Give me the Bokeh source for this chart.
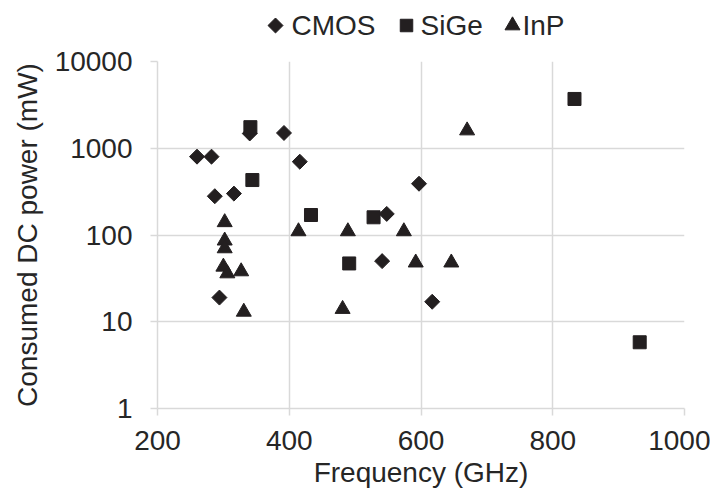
import math
from bokeh.plotting import figure
from bokeh.layouts import column
from bokeh.models import FixedTicker, PrintfTickFormatter
from bokeh.core.properties import value
from bokeh.embed import file_html
from bokeh.resources import INLINE

# ---- data ----
cmos_freq = [260, 282, 287, 316, 340, 392, 416, 294, 541, 548, 597, 617]
cmos_power = [800, 800, 280, 300, 1480, 1500, 700, 19, 50, 175, 390, 17]

sige_freq = [341, 344, 433, 528, 491, 833, 932]
sige_power = [1750, 430, 170, 160, 47, 3700, 5.8]

inp_freq = [302, 302, 302, 300, 306, 327, 331, 414, 481, 489, 574, 592, 646, 670]
inp_power = [140, 86, 70, 43, 36, 38, 13, 110, 14, 110, 110, 48, 48, 1600]

series_names = ["CMOS", "SiGe", "InP"]
x_ticks = [200, 400, 600, 800, 1000]
y_ticks = [1, 10, 100, 1000, 10000]

FONT = "Liberation Sans"
TEXT = "#262626"
MARK = "#231f20"
GRID = "#d9d9d9"
W = 710
LEG_H = 40
FRAME_L, FRAME_R = 157, 684   # page px of the plot frame (column aligns frames)

# ---------------- main chart ----------------
p = figure(width=W, height=497 - LEG_H, output_backend="svg", toolbar_location=None,
           x_range=(200, 1000), y_range=(1, 10000), y_axis_type="log",
           min_border_left=FRAME_L, min_border_right=W - FRAME_R, min_border_top=21,
           min_border_bottom=89)
p.outline_line_color = None

xt = FixedTicker(ticks=x_ticks)
yt = FixedTicker(ticks=y_ticks)
p.xaxis.ticker = xt
p.yaxis.ticker = yt
p.xgrid.ticker = xt
p.ygrid.ticker = yt
p.yaxis.formatter = PrintfTickFormatter(format="%d")

for g in (p.xgrid, p.ygrid):
    g.grid_line_color = GRID
    g.grid_line_width = 1.5

for ax in (p.xaxis, p.yaxis):
    ax.axis_line_color = GRID
    ax.axis_line_width = 1.5
    ax.major_tick_line_color = GRID
    ax.major_tick_line_width = 1.5
    ax.major_tick_in = 0
    ax.major_tick_out = 7
    ax.minor_tick_line_color = None
    ax.major_label_text_font = FONT
    ax.major_label_text_font_size = "28px"
    ax.major_label_text_color = TEXT
    ax.axis_label_text_font = FONT
    ax.axis_label_text_font_size = "28px"
    ax.axis_label_text_font_style = "normal"
    ax.axis_label_text_color = TEXT

p.xaxis.axis_label = "Frequency (GHz)"
p.yaxis.axis_label = "Consumed DC power (mW)"
p.xaxis.major_label_standoff = 15
p.yaxis.major_label_standoff = 18
p.xaxis.axis_label_standoff = 4
p.yaxis.axis_label_standoff = 9

p.scatter(cmos_freq, cmos_power, marker="square", angle=math.pi / 4,
          size=10.6, color=MARK)
p.scatter(sige_freq, sige_power, marker="square", size=13, color=MARK)
p.scatter(inp_freq, inp_power, marker="triangle", size=15, color=MARK)

# ---------------- legend strip (page-pixel coordinates) ----------------
leg = figure(width=W, height=LEG_H, output_backend="svg", toolbar_location=None,
             x_range=(FRAME_L, FRAME_R), y_range=(0, LEG_H),
             min_border_left=FRAME_L, min_border_right=W - FRAME_R,
             min_border_top=0, min_border_bottom=0)
leg.axis.visible = False
leg.grid.visible = False
leg.outline_line_color = None

key_x = [275, 406, 512]          # layout: key symbol centres (page px)
label_x = [291, 420, 522]        # layout: label left edges (page px)
key_y = LEG_H - 25               # layout: legend centre line (px from bottom)

leg.scatter([key_x[0]], [key_y], marker="square", angle=math.pi / 4,
            size=10.6, color=MARK)
leg.scatter([key_x[1]], [key_y], marker="square", size=12.5, color=MARK)
leg.scatter([key_x[2]], [key_y], marker="triangle", size=15, color=MARK)
leg.text(x=label_x, y=[key_y] * 3, text=series_names,
         text_font=value(FONT), text_font_size="28px", text_color=TEXT,
         text_align="left", text_baseline="middle")

layout = column(leg, p, spacing=0)
open("out.html", "w").write(file_html(layout, INLINE))
